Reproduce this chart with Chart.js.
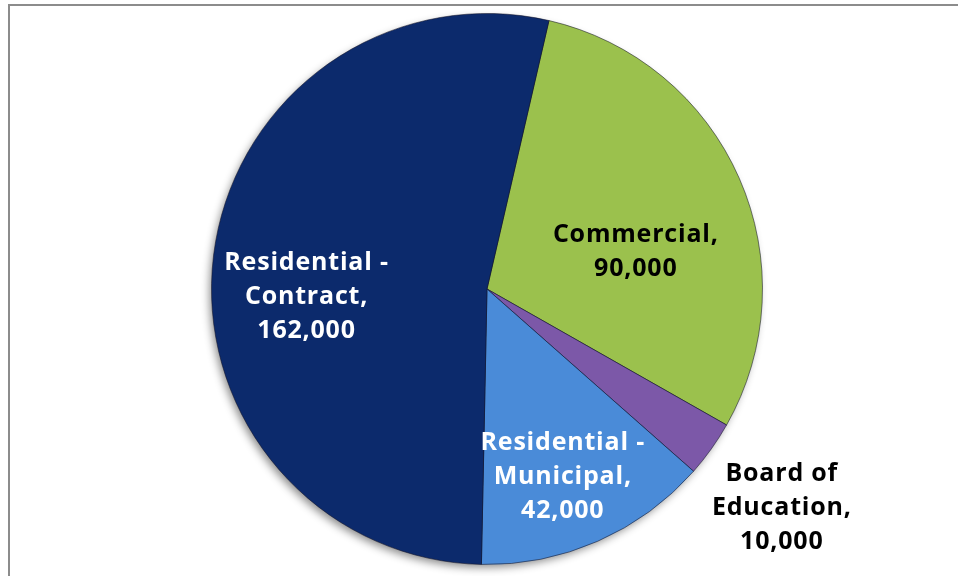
<!DOCTYPE html>
<html>
<head>
<meta charset="utf-8">
<script src="https://cdn.jsdelivr.net/npm/chart.js@4.4.1/dist/chart.umd.min.js"></script>
<style>
  html, body { margin: 0; padding: 0; background: #fff; }
  #wrap { position: relative; width: 958px; height: 576px; overflow: hidden; }
  #frame { position: absolute; left: 8px; top: 4px; width: 980px; height: 600px;
           border-left: 2px solid #8c8c8c; border-top: 2px solid #8c8c8c; box-sizing: border-box; }
  canvas { position: absolute; left: 0; top: 0; }
</style>
</head>
<body>
<div id="wrap">
  <div id="frame"></div>
  <canvas id="pie" width="958" height="576"></canvas>
</div>
<script>
// data
const categories = ['Commercial', 'Board of Education', 'Residential - Municipal', 'Residential - Contract'];
const labelLines = [
    ['Commercial,', '90,000'],
    ['Board of', 'Education,', '10,000'],
    ['Residential -', 'Municipal,', '42,000'],
    ['Residential -', 'Contract,', '162,000']
];
const values = [90000, 10000, 42000, 162000];
const sliceColors = ['#9bc14d', '#7c58a8', '#4a8bd8', '#0c2a6c'];
const textColors = ['#000000', '#000000', '#ffffff', '#ffffff'];

// label anchors, in units of radius from the pie centre
const labelAnchors = [
    { x: 0.54, y: -0.14 },
    { x: 1.07, y: 0.79 },
    { x: 0.275, y: 0.68 },
    { x: -0.655, y: 0.025 }
];

const pieShadow = {
    id: 'pieShadow',
    beforeDatasetsDraw(chart) {
        const arc = chart.getDatasetMeta(0).data[0];
        if (!arc) return;
        const ctx = chart.ctx;
        ctx.save();
        ctx.shadowColor = 'rgba(0,0,0,0.45)';
        ctx.shadowBlur = 9;
        ctx.shadowOffsetX = -3;
        ctx.shadowOffsetY = 4;
        ctx.fillStyle = '#0c2a6c';
        ctx.beginPath();
        ctx.arc(arc.x, arc.y, arc.outerRadius - 1, 0, Math.PI * 2);
        ctx.fill();
        ctx.restore();
    }
};

const sliceLabels = {
    id: 'sliceLabels',
    afterDatasetsDraw(chart) {
        const ctx = chart.ctx;
        const meta = chart.getDatasetMeta(0);
        ctx.save();
        ctx.font = 'bold 25px "Open Sans", Lato, sans-serif';
        ctx.letterSpacing = '0.8px';
        ctx.textAlign = 'center';
        ctx.textBaseline = 'middle';
        meta.data.forEach((arc, i) => {
            const r = arc.outerRadius;
            const cx = arc.x + labelAnchors[i].x * r;
            const cy = arc.y + labelAnchors[i].y * r;
            const lines = labelLines[i];
            const lh = 34;
            ctx.fillStyle = textColors[i];
            lines.forEach((ln, j) => {
                ctx.fillText(ln, cx, cy + 1 + (j - (lines.length - 1) / 2) * lh);
            });
        });
        ctx.restore();
    }
};

// subtle bevel: radial gradient per slice
function sliceFill(context) {
    const i = context.dataIndex;
    const chart = context.chart;
    const arc = chart.getDatasetMeta(0).data[i];
    const base = sliceColors[i];
    if (!arc || !arc.outerRadius) return base;
    const g = chart.ctx.createRadialGradient(arc.x, arc.y, 0, arc.x, arc.y, arc.outerRadius);
    g.addColorStop(0, base);
    g.addColorStop(0.93, base);
    g.addColorStop(0.97, shade(base, 18));
    g.addColorStop(1, shade(base, -25));
    return g;
}

function shade(hex, amt) {
    const n = parseInt(hex.slice(1), 16);
    const c = v => Math.max(0, Math.min(255, v + amt));
    const r = c(n >> 16), g = c((n >> 8) & 255), b = c(n & 255);
    return `rgb(${r},${g},${b})`;
}

new Chart(document.getElementById('pie'), {
    type: 'pie',
    data: {
        labels: categories,
        datasets: [{
            data: values,
            backgroundColor: sliceFill,
            borderColor: 'rgba(20,20,40,0.55)',
            borderWidth: 1
        }]
    },
    options: {
        responsive: false,
        animation: false,
        rotation: 13,
        layout: { padding: { left: 211, right: 195, top: 13, bottom: 11 } },
        plugins: {
            legend: { display: false },
            tooltip: { enabled: false }
        }
    },
    plugins: [pieShadow, sliceLabels]
});
</script>
</body>
</html>
